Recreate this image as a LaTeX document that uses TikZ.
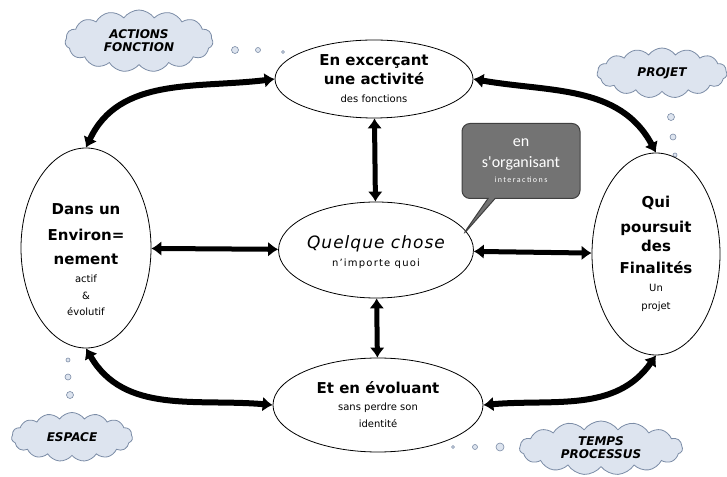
\documentclass[tikz,border=0pt]{standalone}
\usepackage{fontspec}
\setmainfont{DejaVu Sans}
\newfontfamily\bubblefont{Carlito}
\usetikzlibrary{shapes.geometric,shapes.symbols,shapes.callouts,arrows.meta}
\definecolor{cloudfill}{HTML}{DDE4EF}
\definecolor{cloudline}{HTML}{7B8CA6}
\definecolor{bubblegray}{HTML}{737373}
\newcommand{\hl}{\fontsize{15}{22}\selectfont\bfseries}
\newcommand{\sm}{\fontsize{10}{14}\selectfont\mdseries}
\newcommand{\cl}{\fontsize{12}{13}\selectfont\bfseries\itshape}
\begin{document}
\begin{tikzpicture}[x=1pt,y=1pt,line cap=round,>={Latex[length=10pt,width=15pt]},
    elli/.style={ellipse,draw,line width=0.8pt,fill=white,inner sep=0pt,align=center,font=\hl},
    cloudy/.style={cloud,cloud puffs=15,cloud puff arc=110,cloud ignores aspect,draw=cloudline,fill=cloudfill,line width=0.8pt,inner sep=0pt,align=center,font=\cl},
    puff/.style={circle,draw=cloudline,fill=cloudfill,line width=0.6pt,inner sep=0pt},
    fat/.style={<->,line width=5pt},
    bigarc/.style={<->,line width=6pt},
    bubble/.style={rectangle callout,rounded corners=8pt,fill=bubblegray,draw=black!75,line width=1pt,text=white,align=center,
      font=\bubblefont\fontsize{16}{21}\selectfont,inner sep=0pt}]
  \useasboundingbox (0,0) rectangle (727,476);
  % clouds
  \node[cloudy,minimum width=148pt,minimum height=62pt] (actions) at (139,435) {ACTIONS\\FONCTION};
  \node[cloudy,minimum width=130pt,minimum height=50pt] (projet) at (662,403) {PROJET};
  \node[cloudy,minimum width=121pt,minimum height=49pt] (espace) at (72,39) {ESPACE};
  \node[cloudy,minimum width=163pt,minimum height=54pt] (temps) at (601,28) {TEMPS\\PROCESSUS};
  \node[puff,minimum size=7pt] (a1) at (235,426) {};
  \node[puff,minimum size=5pt] (a2) at (258,426) {};
  \node[puff,minimum size=3pt] (a3) at (283,424) {};
  \node[puff,minimum size=7pt] (p1) at (671,359) {};
  \node[puff,minimum size=6pt] (p2) at (673,339) {};
  \node[puff,minimum size=4pt] (p3) at (675,321) {};
  \node[puff,minimum size=4pt] (e1) at (68,116) {};
  \node[puff,minimum size=6pt] (e2) at (68,99) {};
  \node[puff,minimum size=7pt] (e3) at (70,81) {};
  \node[puff,minimum size=3pt] (t1) at (453,29) {};
  \node[puff,minimum size=5pt] (t2) at (475,29) {};
  \node[puff,minimum size=8pt] (t3) at (500,29) {};
  % ellipses
  \node[elli,minimum width=198pt,minimum height=78pt] (act) at (374,397)
    {En excerçant\\[-3pt] une activité\\[-4pt] \sm des fonctions};
  \node[elli,minimum width=130pt,minimum height=200pt] (env) at (86,228)
    {\mbox{}\\[12pt] Dans un\\[4pt] Environ=\\[2pt] nement\\[-4pt] \sm actif\\[-5pt] \sm \&\\[-6pt] \sm évolutif};
  \node[elli,minimum width=176pt,minimum height=96pt] (thing) at (376,226)
    {\mbox{}\\[-4pt] \fontsize{17}{20}\selectfont\mdseries\itshape\addfontfeature{LetterSpace=6}Quelque chose\\[-4pt]
     \sm\addfontfeature{LetterSpace=12}n'importe quoi};
  \node[elli,minimum width=128pt,minimum height=202pt] (goal) at (656,222)
    {Qui\\[3pt] poursuit\\[-3pt] des\\[0pt] Finalités\\[-4pt] \sm Un\\[-4pt] \sm projet};
  \node[elli,minimum width=210pt,minimum height=94pt] (evol) at (378,71)
    {Et en évoluant\\[-5pt] \sm sans perdre son\\[-5pt] \sm identité};
  % callout
  \node[bubble,callout absolute pointer={(462,240)},minimum width=118pt,minimum height=75pt] (orga) at (521,315)
    {en\\ s'organisant\\[-6pt]
     \fontsize{8}{9}\selectfont\addfontfeature{LetterSpace=18}interactions};
  % arrows
  \draw[fat] (act) -- (thing);
  \draw[fat] (env) -- (thing);
  \draw[fat] (thing) -- (goal);
  \draw[fat] (thing) -- (evol);
  \draw[bigarc] (act.west) to[out=187,in=65] (env.north);
  \draw[bigarc] (act.east) to[out=-10,in=118] (goal.north);
  \draw[bigarc] (env.south) to[out=-60,in=175] (evol.west);
  \draw[bigarc] (goal.south) to[out=-125,in=5] (evol.east);
\end{tikzpicture}
\end{document}
